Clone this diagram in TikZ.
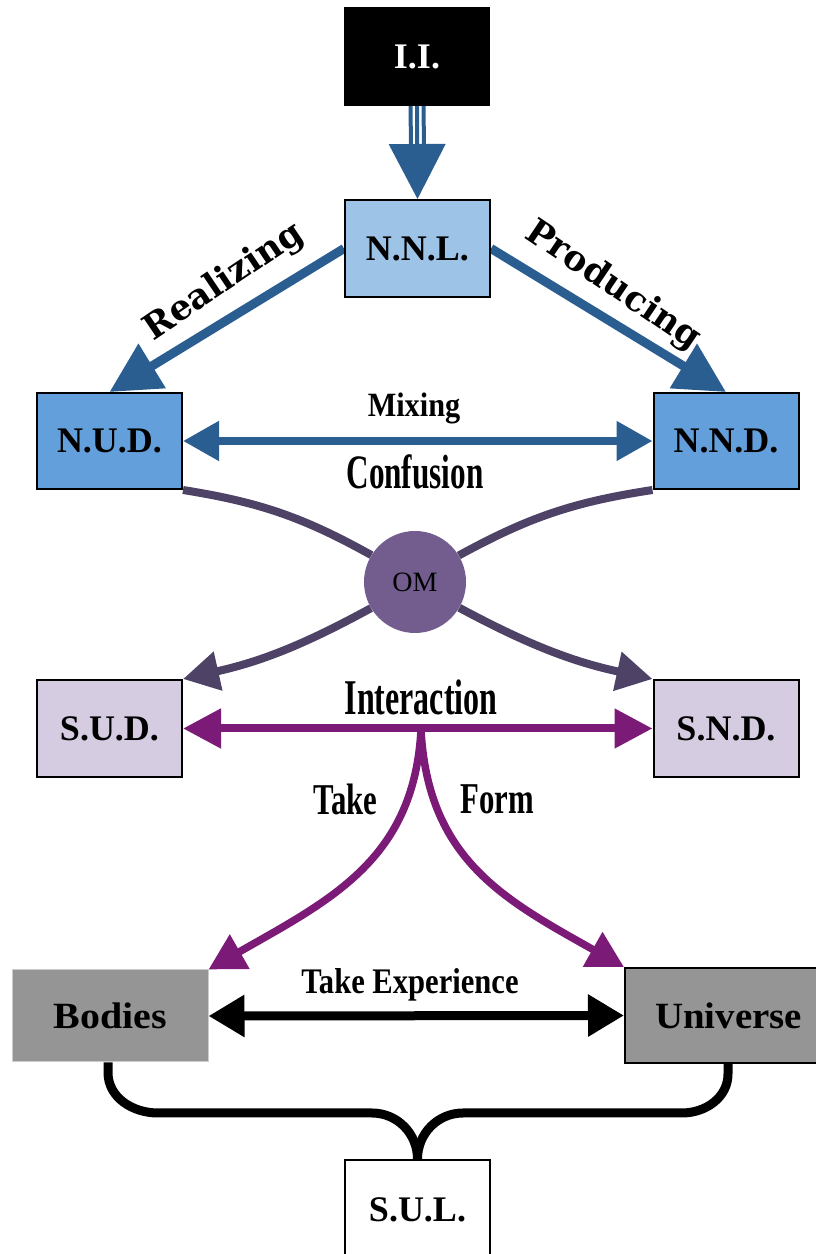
\documentclass[tikz,border=0pt]{standalone}
\usepackage{fontspec}
\setmainfont{Liberation Serif}
\newfontfamily\djs{DejaVu Serif}
\usetikzlibrary{arrows.meta}
\definecolor{nnlC}{HTML}{9DC3E6}
\definecolor{nudC}{HTML}{639FDB}
\definecolor{blueA}{HTML}{2A5E91}
\definecolor{omC}{HTML}{725D8E}
\definecolor{omL}{HTML}{4E4266}
\definecolor{sudC}{HTML}{D6CCE2}
\definecolor{purA}{HTML}{7C1A78}
\definecolor{grayC}{HTML}{959595}
\pgfdeclarelayer{bg}
\pgfsetlayers{bg,main}
\begin{document}
\begin{tikzpicture}[x=1pt,y=1pt,
  box/.style={draw=black, line width=2pt, minimum width=145pt, minimum height=96pt, inner sep=0pt,
    font=\bfseries\fontsize{36}{36}\selectfont},
  bigbox/.style={box, font=\bfseries\fontsize{37}{37}\selectfont},
  lab/.style={inner sep=0pt},
  bluearrow/.style={draw=blueA, line width=9pt, -{Triangle[length=50pt,width=50pt]}},
  bluedbl/.style={draw=blueA, line width=8pt, {Triangle[length=36pt,width=38pt]}-{Triangle[length=36pt,width=38pt]}},
  omline/.style={draw=omL, line width=8pt},
  omarrow/.style={draw=omL, line width=8pt, -{Triangle[length=36pt,width=38pt]}},
  purdbl/.style={draw=purA, line width=8pt, {Triangle[length=38pt,width=38pt]}-{Triangle[length=38pt,width=38pt]}},
  purarrow/.style={draw=purA, line width=7.5pt, -{Triangle[length=36pt,width=38pt]}},
  blkdbl/.style={draw=black, line width=9pt, {Triangle[length=36pt,width=40pt]}-{Triangle[length=36pt,width=40pt]}},
  bracestyle/.style={draw=black, line width=9pt, line join=round}
]
\useasboundingbox (0,0) rectangle (815,1254);

% nodes
\node[box, fill=black, text=white, minimum width=144pt, minimum height=97pt] (ii) at (417,1197.5) {I.I.};
\node[box, fill=nnlC, minimum height=97pt] (nnl) at (417.5,1005.5) {N.N.L.};
\node[box, fill=nudC] (nud) at (109.5,813) {N.U.D.};
\node[box, fill=nudC] (nnd) at (726,813) {N.N.D.};
\node[circle, fill=omC, minimum size=102pt, inner sep=0pt, font=\fontsize{28}{28}\selectfont] (om) at (415,672) {OM};
\node[box, fill=sudC, minimum height=97pt] (sud) at (109.5,525.5) {S.U.D.};
\node[box, fill=sudC, minimum height=97pt] (snd) at (726,525.5) {S.N.D.};
\node[bigbox, fill=grayC, draw=gray!40, line width=1pt, minimum width=196pt, minimum height=92pt] (bodies) at (110,238) {\scalebox{1.08}[1]{Bodies}};
\node[bigbox, fill=grayC, minimum width=207pt, minimum height=95pt] (universe) at (728.5,238.5) {\scalebox{1.05}[1]{Universe}};
\node[box, fill=white, minimum height=100pt] (sul) at (417.5,44) {S.U.L.};

% labels
\node[lab, rotate=34, font=\djs\bfseries\fontsize{35}{35}\selectfont] (realizing) at (224,972) {Realizing};
\node[lab, rotate=-34, font=\djs\bfseries\fontsize{35}{35}\selectfont] (producing) at (613,968) {Producing};
\node[lab, font=\bfseries\fontsize{34}{34}\selectfont] (mixing) at (414,846) {\scalebox{0.89}[1]{Mixing}};
\node[lab, font=\bfseries\fontsize{48}{48}\selectfont] (confusion) at (415,782) {\scalebox{0.65}[1]{Confusion}};
\node[lab, font=\bfseries\fontsize{50}{50}\selectfont] (interaction) at (421,556.5) {\scalebox{0.64}[1]{Interaction}};
\node[lab, font=\bfseries\fontsize{44}{44}\selectfont] (take) at (345.5,455) {\scalebox{0.7}[1]{Take}};
\node[lab, font=\bfseries\fontsize{44}{44}\selectfont] (form) at (497.5,455) {\scalebox{0.7}[1]{Form}};
\node[lab, font=\bfseries\fontsize{36}{36}\selectfont] (takeexp) at (410,269) {\scalebox{0.85}[1]{Take Experience}};

\coordinate (split) at (421,524);

% connectors
\begin{pgfonlayer}{bg}
\draw[draw=blueA, line width=4pt, -{Triangle[length=55pt,width=56pt]}] (ii.south) -- (nnl.north);
\draw[draw=blueA, line width=4pt] ([xshift=-6.5pt]ii.south) -- ([xshift=-6.5pt,yshift=52pt]nnl.north);
\draw[draw=blueA, line width=4pt] ([xshift=6.5pt]ii.south) -- ([xshift=6.5pt,yshift=52pt]nnl.north);
\draw[bluearrow] (nnl.west) -- (nud.north);
\draw[bluearrow] (nnl.east) -- (nnd.north);
\draw[bluedbl] (nud.east) -- (nnd.west);
\draw[omline] (nud.south east) to[bend left=10] (om);
\draw[omline] (nnd.south west) to[bend right=10] (om);
\draw[omarrow] (om) to[bend left=8] (sud.north east);
\draw[omarrow] (om) to[bend right=8] (snd.north west);
\draw[purdbl] (sud.east) -- (snd.west);
\draw[purarrow] (split) .. controls (414,394) and (330,354) .. (bodies.north east);
\draw[purarrow] (split) .. controls (428,394) and (505,354) .. (universe.north west);
\draw[blkdbl] (bodies.east) -- (universe.west);
\draw[bracestyle] ([xshift=-2pt]bodies.south) -- ++(0,-10) to[out=-90,in=180] (158,141) -- (372,141) to[out=0,in=90] (sul.north);
\draw[bracestyle] ([xshift=-0.5pt]universe.south) -- ++(0,-10) to[out=-90,in=0] (682,141) -- (463,141) to[out=180,in=90] (sul.north);
\end{pgfonlayer}
\end{tikzpicture}
\end{document}
